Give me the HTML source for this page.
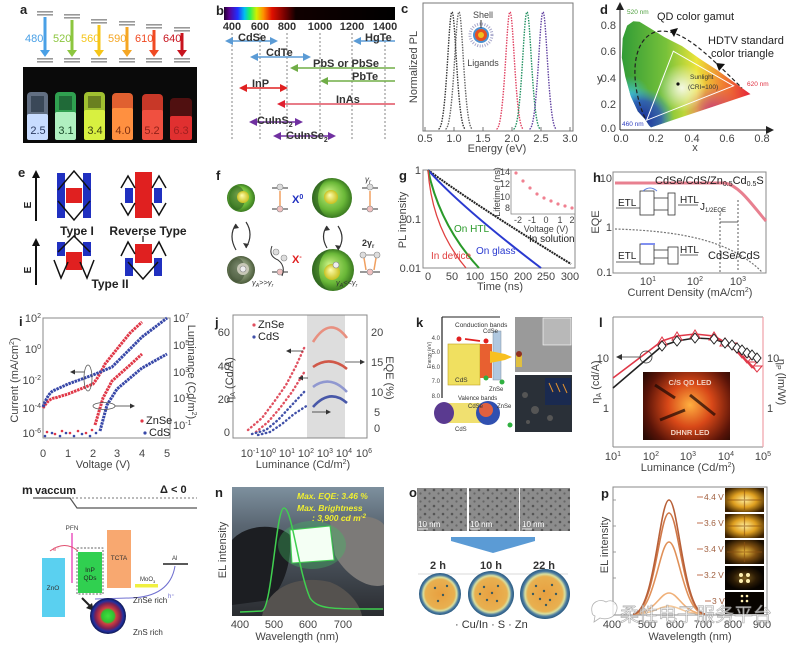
<!DOCTYPE html>
<html><head><meta charset="utf-8">
<style>
html,body{margin:0;padding:0;background:#fff;}
svg{display:block;font-family:"Liberation Sans",Arial,sans-serif;}
</style></head><body>
<svg width="800" height="650" viewBox="0 0 800 650" xmlns="http://www.w3.org/2000/svg">
<defs>
<linearGradient id="spec" x1="224" x2="395" y1="0" y2="0" gradientUnits="userSpaceOnUse">
<stop offset="0" stop-color="#200030"/><stop offset="0.03" stop-color="#5a0090"/><stop offset="0.08" stop-color="#2030ff"/><stop offset="0.12" stop-color="#00c0f0"/><stop offset="0.15" stop-color="#20f060"/><stop offset="0.19" stop-color="#d0f000"/><stop offset="0.23" stop-color="#ff9000"/><stop offset="0.28" stop-color="#e01000"/><stop offset="0.36" stop-color="#700000"/><stop offset="0.42" stop-color="#100000"/><stop offset="1" stop-color="#000"/>
</linearGradient>
<linearGradient id="cieH" x1="620" x2="752" y1="0" y2="0" gradientUnits="userSpaceOnUse">
<stop offset="0" stop-color="#2e9a36"/><stop offset="0.35" stop-color="#78c23a"/><stop offset="0.58" stop-color="#ece43a"/><stop offset="0.78" stop-color="#f08030"/><stop offset="1" stop-color="#e41e3c"/>
</linearGradient>
<radialGradient id="cieB" cx="642" cy="120" r="32" gradientUnits="userSpaceOnUse"><stop offset="0" stop-color="#1a2a9a"/><stop offset="0.6" stop-color="#2a50c0" stop-opacity="0.8"/><stop offset="1" stop-color="#30a0e0" stop-opacity="0"/></radialGradient>
<radialGradient id="cieC" cx="630" cy="96" r="20" gradientUnits="userSpaceOnUse"><stop offset="0" stop-color="#40c8e8" stop-opacity="0.9"/><stop offset="1" stop-color="#40c8e8" stop-opacity="0"/></radialGradient>
<radialGradient id="cieW" cx="682" cy="88" r="24" gradientUnits="userSpaceOnUse"><stop offset="0" stop-color="#ffffff" stop-opacity="0.85"/><stop offset="1" stop-color="#ffffff" stop-opacity="0"/></radialGradient>
<radialGradient id="cieM" cx="712" cy="112" r="28" gradientUnits="userSpaceOnUse"><stop offset="0" stop-color="#c42a80" stop-opacity="0.9"/><stop offset="1" stop-color="#c42a80" stop-opacity="0"/></radialGradient>
<clipPath id="cieClip"><path d="M651,127.4 L649,125.4 L644.9,119 L637.8,111.4 L630.7,96 L625.3,76.8 L621.8,57.6 L622.7,38.4 L627.1,25.6 L633.3,21.2 L639.5,21.8 L650.2,28.2 L664.4,37.1 L682.1,46.1 L699.9,58.9 L717.6,70.4 L735.4,83.2 L750.5,94.1 Z"/></clipPath>
<radialGradient id="sphG" cx="0.5" cy="0.5" r="0.5" fx="0.4" fy="0.35"><stop offset="0" stop-color="#c8f080"/><stop offset="0.7" stop-color="#6ab838"/><stop offset="1" stop-color="#3a7a20"/></radialGradient>
<radialGradient id="sphGray" cx="0.5" cy="0.5" r="0.5" fx="0.4" fy="0.35"><stop offset="0" stop-color="#b8c4a8"/><stop offset="0.7" stop-color="#7a8a68"/><stop offset="1" stop-color="#4a5a3a"/></radialGradient>
<radialGradient id="coreY" cx="0.5" cy="0.5" r="0.5" fx="0.4" fy="0.35"><stop offset="0" stop-color="#ffffb0"/><stop offset="1" stop-color="#c8c020"/></radialGradient>
<radialGradient id="lglow" cx="690" cy="405" r="55" gradientUnits="userSpaceOnUse"><stop offset="0" stop-color="#ffb040"/><stop offset="0.4" stop-color="#d84818"/><stop offset="0.8" stop-color="#5a1408"/><stop offset="1" stop-color="#2a0a04"/></radialGradient>
<radialGradient id="pglow" cx="0.5" cy="0.5" r="0.6"><stop offset="0" stop-color="#fff0a0"/><stop offset="0.5" stop-color="#e0a020"/><stop offset="1" stop-color="#3a2000"/></radialGradient>
<radialGradient id="pglow2" cx="0.5" cy="0.5" r="0.6"><stop offset="0" stop-color="#f0c040"/><stop offset="0.5" stop-color="#805010"/><stop offset="1" stop-color="#1a0e00"/></radialGradient>
<radialGradient id="pglow3" cx="0.5" cy="0.5" r="0.5"><stop offset="0" stop-color="#806020"/><stop offset="0.6" stop-color="#2a1a04"/><stop offset="1" stop-color="#080400"/></radialGradient>
<linearGradient id="nbg" x1="0" y1="0" x2="0" y2="1"><stop offset="0" stop-color="#7d909e"/><stop offset="0.3" stop-color="#5a6672"/><stop offset="1" stop-color="#2a2c30"/></linearGradient>
<pattern id="tem" width="9" height="8" patternUnits="userSpaceOnUse"><rect width="9" height="8" fill="#8c8c8c"/><circle cx="2" cy="2" r="1.3" fill="#555"/><circle cx="6.5" cy="5.5" r="1.1" fill="#666"/></pattern>
<radialGradient id="oring" cx="0.5" cy="0.5" r="0.5"><stop offset="0" stop-color="#e8a040"/><stop offset="0.7" stop-color="#e8b050"/><stop offset="0.8" stop-color="#d8e0a0"/><stop offset="0.9" stop-color="#4a7aa0"/><stop offset="1" stop-color="#2a5a80"/></radialGradient>
<radialGradient id="msph" cx="0.5" cy="0.5" r="0.5"><stop offset="0" stop-color="#40e040"/><stop offset="0.35" stop-color="#30c030"/><stop offset="0.45" stop-color="#d04040"/><stop offset="0.7" stop-color="#802050"/><stop offset="0.85" stop-color="#2030a0"/><stop offset="1" stop-color="#101850"/></radialGradient>
</defs>
<rect width="800" height="650" fill="#fff"/>

<!-- ================= Panel a ================= -->
<text x="20" y="14" font-size="13" font-weight="bold" fill="#222">a</text>
<g>
<rect x="37" y="11" width="16" height="1.6" fill="#999"/><rect x="37" y="14" width="16" height="1.6" fill="#999"/>
<line x1="45" y1="17" x2="45" y2="52" stroke="#4aa0e6" stroke-width="3"/><polygon points="40,50 50,50 45,57" fill="#4aa0e6"/>
<rect x="37" y="58" width="16" height="1.6" fill="#999"/><rect x="37" y="61" width="16" height="1.6" fill="#999"/>
<text x="25" y="42" font-size="11" fill="#4aa0e6">480</text>

<rect x="64" y="14" width="16" height="1.6" fill="#999"/><rect x="64" y="17" width="16" height="1.6" fill="#999"/>
<line x1="72" y1="20" x2="72" y2="52" stroke="#8cc63f" stroke-width="3"/><polygon points="67,50 77,50 72,57" fill="#8cc63f"/>
<rect x="64" y="58" width="16" height="1.6" fill="#999"/><rect x="64" y="61" width="16" height="1.6" fill="#999"/>
<text x="53" y="42" font-size="11" fill="#8cc63f">520</text>

<rect x="91" y="19" width="16" height="1.6" fill="#999"/><rect x="91" y="22" width="16" height="1.6" fill="#999"/>
<line x1="99" y1="25" x2="99" y2="52" stroke="#f5c518" stroke-width="3"/><polygon points="94,50 104,50 99,57" fill="#f5c518"/>
<rect x="91" y="58" width="16" height="1.6" fill="#999"/><rect x="91" y="61" width="16" height="1.6" fill="#999"/>
<text x="81" y="42" font-size="11" fill="#f5c518">560</text>

<rect x="119" y="21" width="16" height="1.6" fill="#999"/><rect x="119" y="24" width="16" height="1.6" fill="#999"/>
<line x1="127" y1="27" x2="127" y2="52" stroke="#f5a623" stroke-width="3"/><polygon points="122,50 132,50 127,57" fill="#f5a623"/>
<rect x="119" y="58" width="16" height="1.6" fill="#999"/><rect x="119" y="61" width="16" height="1.6" fill="#999"/>
<text x="108" y="42" font-size="11" fill="#f5a623">590</text>

<rect x="146" y="24" width="16" height="1.6" fill="#999"/><rect x="146" y="27" width="16" height="1.6" fill="#999"/>
<line x1="154" y1="30" x2="154" y2="52" stroke="#f04a23" stroke-width="3"/><polygon points="149,50 159,50 154,57" fill="#f04a23"/>
<rect x="146" y="58" width="16" height="1.6" fill="#999"/><rect x="146" y="61" width="16" height="1.6" fill="#999"/>
<text x="135" y="42" font-size="11" fill="#f04a23">610</text>

<rect x="174" y="27" width="16" height="1.6" fill="#999"/><rect x="174" y="30" width="16" height="1.6" fill="#999"/>
<line x1="182" y1="33" x2="182" y2="52" stroke="#c8141e" stroke-width="3"/><polygon points="177,50 187,50 182,57" fill="#c8141e"/>
<rect x="174" y="58" width="16" height="1.6" fill="#999"/><rect x="174" y="61" width="16" height="1.6" fill="#999"/>
<text x="163" y="42" font-size="11" fill="#c8141e">640</text>
</g>
<rect x="23" y="67" width="174" height="76" fill="#0a0a0a"/>
<g>
<rect x="27" y="92" width="21" height="48" rx="4" fill="#7888a0" opacity="0.8"/><rect x="31" y="96" width="13" height="16" fill="#3a4858"/><rect x="27" y="114" width="21" height="26" rx="2" fill="#c8dcff"/>
<rect x="55" y="92" width="21" height="48" rx="4" fill="#30a050"/><rect x="59" y="96" width="13" height="14" fill="#206a38"/><rect x="55" y="112" width="21" height="28" rx="2" fill="#b0f0c0"/>
<rect x="84" y="92" width="21" height="48" rx="4" fill="#a0c030"/><rect x="88" y="96" width="13" height="12" fill="#6a8020"/><rect x="84" y="110" width="21" height="30" rx="2" fill="#d8f040"/>
<rect x="112" y="93" width="21" height="47" rx="4" fill="#e06030"/><rect x="112" y="108" width="21" height="32" rx="2" fill="#ff9040"/>
<rect x="142" y="94" width="21" height="46" rx="4" fill="#c83828"/><rect x="142" y="110" width="21" height="30" rx="2" fill="#f05040"/>
<rect x="170" y="98" width="22" height="42" rx="4" fill="#501010"/><rect x="170" y="116" width="22" height="24" rx="2" fill="#e03030"/>
<text font-size="11" text-anchor="middle" y="134"><tspan x="38" fill="#2a3a60">2.5</tspan><tspan x="66" fill="#1a4a2a">3.1</tspan><tspan x="95" fill="#3a4010">3.4</tspan><tspan x="123" fill="#803010">4.0</tspan><tspan x="152" fill="#902018">5.2</tspan><tspan x="181" fill="#a02020">6.3</tspan></text>
</g>

<!-- ================= Panel b ================= -->
<text x="216" y="15" font-size="13" font-weight="bold" fill="#222">b</text>
<rect x="224" y="7" width="171" height="13" fill="url(#spec)"/>
<g font-size="11" font-weight="bold" fill="#333" text-anchor="middle">
<text x="232" y="30">400</text><text x="260" y="30">600</text><text x="287" y="30">800</text><text x="320" y="30">1000</text><text x="352" y="30">1200</text><text x="385" y="30">1400</text>
</g>
<g stroke="#666" stroke-width="0.8" stroke-dasharray="2 2">
<line x1="232" y1="33" x2="232" y2="140"/><line x1="260" y1="33" x2="260" y2="140"/><line x1="287" y1="33" x2="287" y2="140"/><line x1="320" y1="33" x2="320" y2="140"/><line x1="352" y1="33" x2="352" y2="140"/><line x1="385" y1="33" x2="385" y2="140"/>
</g>
<g stroke-width="1.5">
<line x1="230" y1="41" x2="273" y2="41" stroke="#5b9bd5"/><polygon points="225,41 233,37 233,45" fill="#5b9bd5"/><polygon points="278,41 270,37 270,45" fill="#5b9bd5"/>
<line x1="357" y1="41" x2="395" y2="41" stroke="#5b9bd5"/><polygon points="353,41 361,37 361,45" fill="#5b9bd5"/>
<line x1="254" y1="57" x2="306" y2="57" stroke="#5b9bd5"/><polygon points="250,57 258,53 258,61" fill="#5b9bd5"/><polygon points="311,57 303,53 303,61" fill="#5b9bd5"/>
<line x1="294" y1="68" x2="395" y2="68" stroke="#70ad47"/><polygon points="290,68 298,64 298,72" fill="#70ad47"/>
<line x1="324" y1="81" x2="395" y2="81" stroke="#70ad47"/><polygon points="320,81 328,77 328,85" fill="#70ad47"/>
<line x1="243" y1="88" x2="283" y2="88" stroke="#e02020"/><polygon points="239,88 247,84 247,92" fill="#e02020"/><polygon points="288,88 280,84 280,92" fill="#e02020"/>
<line x1="281" y1="104" x2="395" y2="104" stroke="#e05060"/><polygon points="277,104 285,100 285,108" fill="#e02030"/>
<line x1="253" y1="122" x2="299" y2="122" stroke="#7030a0"/><polygon points="249,122 257,118 257,126" fill="#7030a0"/><polygon points="303,122 295,118 295,126" fill="#7030a0"/>
<line x1="277" y1="136" x2="331" y2="136" stroke="#7030a0"/><polygon points="273,136 281,132 281,140" fill="#7030a0"/><polygon points="336,136 328,132 328,140" fill="#7030a0"/>
</g>
<g font-size="11" font-weight="bold" fill="#333">
<text x="238" y="41">CdSe</text><text x="365" y="41">HgTe</text><text x="266" y="56">CdTe</text><text x="313" y="67">PbS or PbSe</text><text x="352" y="80">PbTe</text><text x="252" y="87">InP</text><text x="336" y="103">InAs</text>
<text x="257" y="124">CuInS<tspan font-size="7" dy="3">2</tspan></text>
<text x="286" y="139">CuInSe<tspan font-size="7" dy="3">2</tspan></text>
</g>

<!-- ================= Panel c ================= -->
<text x="401" y="13" font-size="13" font-weight="bold" fill="#222">c</text>
<rect x="423" y="3" width="150" height="128" fill="none" stroke="#777" stroke-width="1"/>
<g stroke="#777" stroke-width="1"><line x1="425" y1="131" x2="425" y2="127"/><line x1="454" y1="131" x2="454" y2="127"/><line x1="483" y1="131" x2="483" y2="127"/><line x1="512" y1="131" x2="512" y2="127"/><line x1="541" y1="131" x2="541" y2="127"/><line x1="570" y1="131" x2="570" y2="127"/></g>
<g font-size="11" fill="#444" text-anchor="middle"><text x="425" y="142">0.5</text><text x="454" y="142">1.0</text><text x="483" y="142">1.5</text><text x="512" y="142">2.0</text><text x="541" y="142">2.5</text><text x="570" y="142">3.0</text></g>
<text x="497" y="152" font-size="11" fill="#444" text-anchor="middle">Energy (eV)</text>
<text transform="translate(417,67) rotate(-90)" font-size="11" fill="#444" text-anchor="middle">Normalized PL</text>
<g fill="none" stroke-width="1.4" stroke-dasharray="1.5 1.2">
<path d="M438.5,129 C446.6,129 448.4,12 452,12 C455.6,12 457.4,129 465.5,129" stroke="#333"/>
<path d="M445.5,129 C453.6,129 455.4,12 459,12 C462.6,12 464.4,129 472.5,129" stroke="#666"/>
<path d="M496.5,129 C504.6,129 506.4,12 510,12 C513.6,12 515.4,129 523.5,129" stroke="#e04060"/>
<path d="M513.5,129 C521.6,129 523.4,12 527,12 C530.6,12 532.4,129 540.5,129" stroke="#209060"/>
<path d="M529.5,129 C537.6,129 539.4,12 543,12 C546.6,12 548.4,129 556.5,129" stroke="#6040a0"/>
</g>
<circle cx="481" cy="35" r="11" fill="none" stroke="#aac" stroke-width="3" stroke-dasharray="1 1.5"/>
<circle cx="481" cy="35" r="8" fill="#4a90d0"/><circle cx="481" cy="35" r="6" fill="#e85020"/><circle cx="481" cy="35" r="3" fill="#f0c020"/>
<text x="483" y="18" font-size="9" fill="#444" text-anchor="middle">Shell</text>
<line x1="481" y1="20" x2="481" y2="28" stroke="#333"/>
<text x="483" y="66" font-size="9" fill="#444" text-anchor="middle">Ligands</text>

<!-- ================= Panel d ================= -->
<text x="600" y="14" font-size="13" font-weight="bold" fill="#222">d</text>
<g clip-path="url(#cieClip)">
<rect x="615" y="15" width="140" height="120" fill="url(#cieH)"/>
<rect x="615" y="15" width="140" height="120" fill="url(#cieC)"/>
<rect x="615" y="15" width="140" height="120" fill="url(#cieB)"/>
<rect x="615" y="15" width="140" height="120" fill="url(#cieM)"/>
<rect x="615" y="15" width="140" height="120" fill="url(#cieW)"/>
</g>
<path d="M645,118 C632,90 628,42 655,32 C680,26 705,52 742,88" fill="none" stroke="#222" stroke-width="1.2" stroke-dasharray="4 2.5"/>
<polygon points="733.6,85.8 673.3,51.2 646.6,120.3" fill="none" stroke="#fff" stroke-width="1"/>
<circle cx="678" cy="84" r="1.6" fill="#111"/>
<line x1="620" y1="130" x2="620" y2="8" stroke="#222" stroke-width="1"/><polygon points="616,10 624,10 620,2" fill="#222"/>
<line x1="620" y1="130" x2="768" y2="130" stroke="#222" stroke-width="1"/><polygon points="766,126 766,134 774,130" fill="#222"/>
<g font-size="11" fill="#444"><text x="616" y="132" text-anchor="end">0.0</text><text x="616" y="108" text-anchor="end">0.2</text><text x="616" y="82" text-anchor="end">0.4</text><text x="616" y="55" text-anchor="end">0.6</text><text x="616" y="29" text-anchor="end">0.8</text></g>
<g font-size="11" fill="#444" text-anchor="middle"><text x="621" y="142">0.0</text><text x="656" y="142">0.2</text><text x="692" y="142">0.4</text><text x="727" y="142">0.6</text><text x="762" y="142">0.8</text></g>
<text x="695" y="151" font-size="11" fill="#444" text-anchor="middle">x</text>
<text x="597" y="82" font-size="11" fill="#444">y</text>
<text x="657" y="20" font-size="11" fill="#222">QD color gamut</text>
<polygon points="670,30 678,28 674,37" fill="#111"/>
<text x="708" y="44" font-size="11" fill="#222">HDTV standard</text>
<text x="711" y="57" font-size="11" fill="#222">color triangle</text>
<polygon points="716,63 725,64 719,71" fill="#111"/>
<text x="690" y="79" font-size="6.5" fill="#333">Sunlight</text>
<text x="688" y="89" font-size="6.5" fill="#333">(CRI=100)</text>
<text x="747" y="86" font-size="6.5" fill="#e03040">620 nm</text>
<text x="622" y="126" font-size="6.5" fill="#3040c0">460 nm</text>
<text x="627" y="14" font-size="6.5" fill="#50a040">520 nm</text>

<!-- ================= Panel e ================= -->
<text x="18" y="177" font-size="13" font-weight="bold" fill="#222">e</text>
<line x1="36" y1="221" x2="36" y2="176" stroke="#111" stroke-width="2"/><polygon points="32,178 40,178 36,170" fill="#111"/>
<text transform="translate(31,205) rotate(-90)" font-size="10" font-weight="bold" text-anchor="middle" fill="#222">E</text>
<line x1="36" y1="285" x2="36" y2="244" stroke="#111" stroke-width="2"/><polygon points="32,246 40,246 36,238" fill="#111"/>
<text transform="translate(31,270) rotate(-90)" font-size="10" font-weight="bold" text-anchor="middle" fill="#222">E</text>
<rect x="57" y="173" width="8" height="45" fill="#2030c0"/><rect x="83" y="173" width="8" height="45" fill="#2030c0"/>
<rect x="66" y="188" width="16" height="15" fill="#e02020"/>
<polyline points="58,190 74,171 90,190" fill="none" stroke="#111" stroke-width="1.5"/>
<polyline points="58,201 74,220 90,201" fill="none" stroke="#111" stroke-width="1.5"/>
<text x="77" y="235" font-size="12" font-weight="bold" text-anchor="middle" fill="#222">Type I</text>
<rect x="135" y="172" width="17" height="46" fill="#e02020"/>
<rect x="125" y="188" width="8" height="15" fill="#2030c0"/><rect x="154" y="188" width="8" height="15" fill="#2030c0"/>
<polyline points="121,188 128,176 135,188" fill="none" stroke="#111" stroke-width="1.5"/>
<polyline points="152,188 159,176 166,188" fill="none" stroke="#111" stroke-width="1.5"/>
<polyline points="121,203 128,215 135,203" fill="none" stroke="#111" stroke-width="1.5"/>
<polyline points="152,203 159,215 166,203" fill="none" stroke="#111" stroke-width="1.5"/>
<text x="148" y="235" font-size="12" font-weight="bold" text-anchor="middle" fill="#222">Reverse Type</text>
<rect x="57" y="242" width="8" height="14" fill="#2030c0"/><rect x="83" y="242" width="8" height="14" fill="#2030c0"/>
<rect x="66" y="252" width="16" height="18" fill="#e02020"/>
<polyline points="58,252 74,236 90,252" fill="none" stroke="#111" stroke-width="1.5"/>
<polyline points="54,260 61,278 68,262" fill="none" stroke="#111" stroke-width="1.5"/>
<polyline points="80,262 87,278 94,260" fill="none" stroke="#111" stroke-width="1.5"/>
<rect x="125" y="258" width="8" height="18" fill="#2030c0"/><rect x="154" y="258" width="8" height="18" fill="#2030c0"/>
<rect x="135" y="244" width="17" height="19" fill="#e02020"/>
<polyline points="121,256 128,242 135,254" fill="none" stroke="#111" stroke-width="1.5"/>
<polyline points="152,254 159,242 166,256" fill="none" stroke="#111" stroke-width="1.5"/>
<polyline points="128,262 143,279 158,262" fill="none" stroke="#111" stroke-width="1.5"/>
<line x1="143" y1="236" x2="143" y2="242" stroke="#111" stroke-width="1.2"/>
<text x="110" y="288" font-size="12" font-weight="bold" text-anchor="middle" fill="#222">Type II</text>

<!-- ================= Panel f ================= -->
<text x="216" y="180" font-size="13" font-weight="bold" fill="#222">f</text>
<circle cx="241" cy="198" r="14" fill="url(#sphG)"/>
<ellipse cx="237" cy="198" rx="8" ry="12" fill="#2a5a20" opacity="0.55"/>
<circle cx="243" cy="197" r="6" fill="url(#coreY)"/>
<circle cx="241" cy="270" r="14" fill="url(#sphGray)"/>
<ellipse cx="237" cy="270" rx="8" ry="12" fill="#3a4a30" opacity="0.5"/>
<circle cx="243" cy="269" r="6" fill="#c8c8b8"/><circle cx="243" cy="269" r="3" fill="#eee" stroke="#888" stroke-width="0.6"/>
<circle cx="332" cy="198" r="20" fill="url(#sphG)"/>
<path d="M332,178 A20,20 0 0,0 332,218 A14,20 0 0,1 332,178 Z" fill="#2a5a20" opacity="0.6"/>
<circle cx="331" cy="197" r="7" fill="url(#coreY)"/>
<circle cx="333" cy="270" r="21" fill="url(#sphG)"/>
<path d="M333,249 A21,21 0 0,0 333,291 A14,21 0 0,1 333,249 Z" fill="#2a5a20" opacity="0.6"/>
<circle cx="332" cy="272" r="8" fill="url(#coreY)"/><circle cx="336" cy="265" r="3" fill="#eee" stroke="#888" stroke-width="0.6"/>
<g fill="none" stroke="#333" stroke-width="1.2">
<path d="M236,224 Q228,236 236,250"/><path d="M246,222 Q254,234 246,248"/>
<path d="M327,226 Q320,236 327,248"/><path d="M338,226 Q346,238 338,250"/>
</g>
<g fill="#333"><polygon points="236,224 233,229 239,228"/><polygon points="246,248 243,243 249,244"/><polygon points="327,226 324,231 330,230"/><polygon points="338,250 335,245 341,246"/></g>
<g stroke="#333" stroke-width="1">
<line x1="272" y1="188" x2="288" y2="188"/><line x1="272" y1="209" x2="288" y2="209"/>
<line x1="272" y1="272" x2="288" y2="272"/>
<line x1="362" y1="188" x2="378" y2="188"/><line x1="362" y1="209" x2="378" y2="209"/>
<line x1="360" y1="272" x2="380" y2="272"/>
</g>
<g stroke="#f0a060" stroke-width="1.5"><line x1="280" y1="191" x2="280" y2="206"/><line x1="370" y1="191" x2="370" y2="206"/><line x1="364" y1="258" x2="366" y2="270"/><line x1="376" y1="258" x2="374" y2="270"/></g>
<g stroke="#888" stroke-width="0.6"><circle cx="280" cy="187" r="3" fill="#ddd"/><circle cx="280" cy="209" r="3" fill="#f0c0c0"/><circle cx="370" cy="187" r="3" fill="#ddd"/><circle cx="370" cy="209" r="3" fill="#f0c0c0"/>
<circle cx="276" cy="252" r="3" fill="#ddd"/><circle cx="284" cy="258" r="3" fill="#ddd"/><circle cx="280" cy="272" r="3" fill="#f0c0c0"/>
<circle cx="363" cy="255" r="3" fill="#ddd"/><circle cx="377" cy="255" r="3" fill="#ddd"/><circle cx="370" cy="272" r="3" fill="#f0c0c0"/></g>
<path d="M272,246 Q268,256 278,260 Q286,266 282,276" fill="none" stroke="#333" stroke-width="1"/>
<line x1="366" y1="255" x2="374" y2="255" stroke="#888"/>
<text x="292" y="203" font-size="11" font-weight="bold" fill="#2030c0">X<tspan font-size="7" dy="-4">0</tspan></text>
<text x="292" y="263" font-size="11" font-weight="bold" fill="#e02020">X<tspan font-size="7" dy="-4">-</tspan></text>
<text x="365" y="182" font-size="8" font-style="italic" fill="#333">γ<tspan font-size="6" dy="2">r</tspan></text>
<text x="362" y="246" font-size="9" font-weight="bold" fill="#333">2γ<tspan font-size="6" dy="2">r</tspan></text>
<text x="252" y="285" font-size="7.5" font-style="italic" fill="#333">γ<tspan font-size="5" dy="2">A</tspan><tspan dy="-2">&gt;&gt;γ</tspan><tspan font-size="5" dy="2">r</tspan></text>
<text x="336" y="285" font-size="7.5" font-style="italic" fill="#333">γ<tspan font-size="5" dy="2">A</tspan><tspan dy="-2">&lt;&lt;γ</tspan><tspan font-size="5" dy="2">r</tspan></text>

<!-- ================= Panel g ================= -->
<text x="399" y="180" font-size="13" font-weight="bold" fill="#222">g</text>
<rect x="423" y="170" width="152" height="98" fill="none" stroke="#888" stroke-width="1"/>
<text transform="translate(406,220) rotate(-90)" font-size="11" fill="#444" text-anchor="middle">PL intensity</text>
<g font-size="11" fill="#444" text-anchor="end"><text x="421" y="174">1</text><text x="421" y="223">0.1</text><text x="421" y="272">0.01</text></g>
<g font-size="11" fill="#444" text-anchor="middle"><text x="428" y="280">0</text><text x="452" y="280">50</text><text x="475" y="280">100</text><text x="499" y="280">150</text><text x="523" y="280">200</text><text x="546" y="280">250</text><text x="570" y="280">300</text></g>
<text x="500" y="290" font-size="11" fill="#444" text-anchor="middle">Time (ns)</text>
<g fill="none" stroke-width="2">
<path d="M428,170 Q472,203 571,264" stroke="#222" stroke-dasharray="2 0.8"/>
<path d="M428,170 Q462,208 541,268" stroke="#2a3ad0"/>
<path d="M428,170 Q440,226 479,268" stroke="#2a9a2a"/>
<path d="M428,170 Q432,228 466,268" stroke="#e04040" stroke-width="1.3"/>
</g>
<text x="431" y="259" font-size="10" fill="#e04040">In device</text>
<text x="454" y="232" font-size="10" fill="#2a9a2a">On HTL</text>
<text x="476" y="254" font-size="10" fill="#2a3ad0">On glass</text>
<text x="529" y="242" font-size="10" fill="#222">In solution</text>
<rect x="511" y="170" width="64" height="44" fill="#fff" stroke="#888" stroke-width="0.8"/>
<text transform="translate(500,192) rotate(-90)" font-size="9" fill="#444" text-anchor="middle">Lifetime (ns)</text>
<g font-size="9" fill="#444" text-anchor="end"><text x="510" y="175">14</text><text x="510" y="187">12</text><text x="510" y="200">10</text><text x="510" y="211">8</text></g>
<g font-size="9" fill="#444" text-anchor="middle"><text x="518" y="223">-2</text><text x="532" y="223">-1</text><text x="546" y="223">0</text><text x="560" y="223">1</text><text x="572" y="223">2</text></g>
<text x="546" y="232" font-size="9" fill="#444" text-anchor="middle">Voltage (V)</text>
<g fill="#f08090"><circle cx="516" cy="173" r="1.6"/><circle cx="523" cy="181" r="1.6"/><circle cx="530" cy="188" r="1.6"/><circle cx="537" cy="194" r="1.6"/><circle cx="544" cy="198" r="1.6"/><circle cx="551" cy="201" r="1.6"/><circle cx="558" cy="204" r="1.6"/><circle cx="565" cy="206" r="1.6"/><circle cx="572" cy="208" r="1.6"/></g>

<!-- ================= Panel h ================= -->
<text x="593" y="182" font-size="13" font-weight="bold" fill="#222">h</text>
<rect x="613" y="172" width="153" height="101" fill="none" stroke="#888" stroke-width="1"/>
<text transform="translate(599,222) rotate(-90)" font-size="11" fill="#444" text-anchor="middle">EQE</text>
<g font-size="11" fill="#444" text-anchor="end"><text x="612" y="182">10</text><text x="612" y="231">1</text><text x="612" y="276">0.1</text></g>
<g font-size="11" fill="#444" text-anchor="middle"><text x="648" y="285">10<tspan font-size="7" dy="-4">1</tspan></text><text x="695" y="285">10<tspan font-size="7" dy="-4">2</tspan></text><text x="738" y="285">10<tspan font-size="7" dy="-4">3</tspan></text></g>
<text x="690" y="296" font-size="11" fill="#444" text-anchor="middle">Current Density (mA/cm<tspan font-size="7" dy="-4">2</tspan><tspan dy="4">)</tspan></text>
<path d="M615,183 L725,183 C740,186 752,205 766,221" fill="none" stroke="#e88090" stroke-width="3"/>
<path d="M615,229 C680,231 730,240 762,272" fill="none" stroke="#777" stroke-width="1.2" stroke-dasharray="2 1.5"/>
<text x="655" y="184" font-size="11" fill="#222">CdSe/CdS/Zn<tspan font-size="7" dy="2">0.5</tspan><tspan dy="-2">Cd</tspan><tspan font-size="7" dy="2">0.5</tspan><tspan dy="-2">S</tspan></text>
<text x="708" y="259" font-size="11" fill="#222">CdSe/CdS</text>
<text x="700" y="210" font-size="10" fill="#222">J<tspan font-size="6" dy="2">1/2EQE</tspan></text>
<g stroke="#333" stroke-width="0.8" fill="none">
<line x1="720" y1="214" x2="720" y2="272" stroke-dasharray="2 2"/><line x1="738" y1="200" x2="738" y2="272" stroke-dasharray="2 2"/>
<line x1="720" y1="222" x2="738" y2="222"/>
<line x1="616" y1="208" x2="640" y2="208"/><rect x="640" y="191" width="14" height="24"/><line x1="654" y1="198" x2="668" y2="198"/><line x1="654" y1="210" x2="668" y2="210"/><rect x="668" y="193" width="7" height="22"/><line x1="678" y1="205" x2="698" y2="205"/>
<line x1="616" y1="262" x2="640" y2="262"/><rect x="640" y="244" width="14" height="20"/><line x1="654" y1="250" x2="668" y2="250"/><line x1="654" y1="258" x2="668" y2="258"/><rect x="668" y="247" width="10" height="17"/><line x1="680" y1="255" x2="698" y2="255"/>
</g>
<path d="M643,191 Q650,185 657,191" fill="none" stroke="#6080e0" stroke-width="1"/>
<line x1="641" y1="244" x2="655" y2="244" stroke="#8090f0" stroke-width="2"/>
<text x="618" y="206" font-size="10" fill="#222">ETL</text><text x="680" y="203" font-size="10" fill="#222">HTL</text>
<text x="618" y="259" font-size="10" fill="#222">ETL</text><text x="680" y="253" font-size="10" fill="#222">HTL</text>

<!-- ================= Panel i ================= -->
<text x="19" y="326" font-size="13" font-weight="bold" fill="#222">i</text>
<rect x="43" y="318" width="127" height="120" fill="none" stroke="#888" stroke-width="1"/>
<g font-size="11" fill="#444" text-anchor="end">
<text x="41" y="322">10<tspan font-size="7" dy="-4">2</tspan></text>
<text x="41" y="353">10<tspan font-size="7" dy="-4">0</tspan></text>
<text x="41" y="384">10<tspan font-size="7" dy="-4">-2</tspan></text>
<text x="41" y="412">10<tspan font-size="7" dy="-4">-4</tspan></text>
<text x="41" y="437">10<tspan font-size="7" dy="-4">-6</tspan></text>
</g>
<g font-size="11" fill="#444">
<text x="173" y="322">10<tspan font-size="7" dy="-4">7</tspan></text>
<text x="173" y="349">10<tspan font-size="7" dy="-4">5</tspan></text>
<text x="173" y="376">10<tspan font-size="7" dy="-4">3</tspan></text>
<text x="173" y="402">10<tspan font-size="7" dy="-4">1</tspan></text>
<text x="173" y="429">10<tspan font-size="7" dy="-4">-1</tspan></text>
</g>
<g font-size="11" fill="#444" text-anchor="middle"><text x="43" y="457">0</text><text x="68" y="457">1</text><text x="93" y="457">2</text><text x="117" y="457">3</text><text x="142" y="457">4</text><text x="167" y="457">5</text></g>
<text x="103" y="468" font-size="11" fill="#444" text-anchor="middle">Voltage (V)</text>
<text transform="translate(18,380) rotate(-90)" font-size="11" fill="#444" text-anchor="middle">Current (mA/cm<tspan font-size="7" dy="-4">2</tspan><tspan dy="4">)</tspan></text>
<text transform="translate(188,372) rotate(90)" font-size="11" fill="#444" text-anchor="middle">Luminance (Cd/m<tspan font-size="7" dy="-4">2</tspan><tspan dy="4">)</tspan></text>
<g fill="none" stroke-width="3" stroke-dasharray="2.5 0.8">
<path d="M43,408 C48,400 52,398 55,398 L68,394 L93,384 C98,378 102,370 105,364 L117,349 L130,333 L142,322" stroke="#e03848"/>
<path d="M43,407 C47,396 51,391 55,390 L68,384 L93,375 L112,367 L125,354 L142,337 L167,318" stroke="#3848a8"/>
<path d="M95,425 L103,398 L112,381 L130,365 L142,354" stroke="#e03848"/>
<path d="M100,431 L107,405 L117,389 L142,368 L167,354" stroke="#3848a8"/>
</g>
<g fill="#e03848"><circle cx="47" cy="432" r="1.3"/><circle cx="55" cy="434" r="1.3"/><circle cx="62" cy="431" r="1.3"/><circle cx="70" cy="433" r="1.3"/><circle cx="78" cy="431" r="1.3"/><circle cx="86" cy="433" r="1.3"/><circle cx="92" cy="430" r="1.3"/></g>
<g fill="#3848a8"><circle cx="45" cy="436" r="1.3"/><circle cx="52" cy="433" r="1.3"/><circle cx="60" cy="436" r="1.3"/><circle cx="66" cy="433" r="1.3"/><circle cx="74" cy="436" r="1.3"/><circle cx="82" cy="434" r="1.3"/><circle cx="90" cy="436" r="1.3"/><circle cx="96" cy="433" r="1.3"/></g>
<ellipse cx="88" cy="378" rx="4" ry="13" fill="none" stroke="#555" stroke-width="0.8"/>
<line x1="84" y1="372" x2="72" y2="372" stroke="#333" stroke-width="0.8"/><polygon points="70,372 75,369.5 75,374.5" fill="#333"/>
<ellipse cx="104" cy="406" rx="11" ry="3.5" fill="none" stroke="#555" stroke-width="0.8"/>
<line x1="115" y1="406" x2="132" y2="406" stroke="#333" stroke-width="0.8"/><polygon points="135,406 130,403.5 130,408.5" fill="#333"/>
<text x="146" y="424" font-size="11" fill="#222">ZnSe</text><circle cx="142" cy="421" r="1.6" fill="#e03848"/>
<text x="149" y="436" font-size="11" fill="#222">CdS</text><circle cx="145" cy="433" r="1.6" fill="#3848a8"/>

<!-- ================= Panel j ================= -->
<text x="215" y="327" font-size="13" font-weight="bold" fill="#222">j</text>
<rect x="307" y="315" width="38" height="123" fill="#ddd"/>
<rect x="233" y="315" width="134" height="123" fill="none" stroke="#888" stroke-width="1"/>
<g font-size="11" fill="#444" text-anchor="end"><text x="230" y="336">60</text><text x="230" y="370">40</text><text x="230" y="403">20</text><text x="230" y="436">0</text></g>
<g font-size="11" fill="#444"><text x="371" y="336">20</text><text x="371" y="366">15</text><text x="371" y="396">10</text><text x="374" y="416">5</text><text x="374" y="432">0</text></g>
<g font-size="11" fill="#444" text-anchor="middle">
<text x="250" y="457">10<tspan font-size="7" dy="-4">-1</tspan></text><text x="268" y="457">10<tspan font-size="7" dy="-4">0</tspan></text><text x="287" y="457">10<tspan font-size="7" dy="-4">1</tspan></text><text x="306" y="457">10<tspan font-size="7" dy="-4">2</tspan></text><text x="325" y="457">10<tspan font-size="7" dy="-4">3</tspan></text><text x="344" y="457">10<tspan font-size="7" dy="-4">4</tspan></text><text x="364" y="457">10<tspan font-size="7" dy="-4">6</tspan></text>
</g>
<text x="303" y="468" font-size="11" fill="#444" text-anchor="middle">Luminance (Cd/m<tspan font-size="7" dy="-4">2</tspan><tspan dy="4">)</tspan></text>
<text transform="translate(233,380) rotate(-90)" font-size="11" fill="#444" text-anchor="middle">η<tspan font-size="7" dy="2">A</tspan><tspan dy="-2"> (Cd/A)</tspan></text>
<text transform="translate(386,378) rotate(90)" font-size="11" fill="#444" text-anchor="middle">EQE (%)</text>
<g fill="none" stroke-width="2.4" stroke-linecap="round" stroke-dasharray="0.5 3.5">
<path d="M248,430 L262,418 L274,402 L286,385 L296,366 L305,346" stroke="#e05060"/>
<path d="M256,432 L268,422 L280,408 L292,392 L305,371" stroke="#e05060"/>
<path d="M252,434 L266,430 L278,420 L290,407 L305,391" stroke="#4050a8"/>
<path d="M258,435 L270,432 L282,424 L294,414 L308,405" stroke="#4050a8"/>
</g>
<g fill="none" stroke-width="2.6">
<path d="M313,342 Q330,315 347,338" stroke="#e89080"/>
<path d="M313,367 Q330,355 347,369" stroke="#d05848"/>
<path d="M313,387 Q330,374 347,392" stroke="#9098d0"/>
<path d="M313,407 Q330,388 347,403" stroke="#4858a8"/>
</g>
<g stroke="#333" stroke-width="0.8"><line x1="288" y1="351" x2="303" y2="351"/><line x1="345" y1="362" x2="362" y2="362"/><line x1="300" y1="378" x2="308" y2="378"/><line x1="312" y1="412" x2="328" y2="412"/></g>
<g fill="#333"><polygon points="286,351 291,348.5 291,353.5"/><polygon points="365,362 360,359.5 360,364.5"/><polygon points="298,378 303,375.5 303,380.5"/><polygon points="331,412 326,409.5 326,414.5"/></g>
<text x="258" y="328" font-size="11" fill="#222">ZnSe</text><circle cx="254" cy="325" r="1.6" fill="#e05060"/>
<text x="258" y="340" font-size="11" fill="#222">CdS</text><circle cx="254" cy="337" r="1.6" fill="#4050a8"/>

<!-- ================= Panel k ================= -->
<text x="416" y="327" font-size="13" font-weight="bold" fill="#222">k</text>
<line x1="442" y1="317" x2="442" y2="398" stroke="#222" stroke-width="1.2"/>
<line x1="442" y1="317" x2="500" y2="317" stroke="#222" stroke-width="1"/>
<g font-size="6" fill="#444" text-anchor="end"><text x="440" y="340">4.0</text><text x="440" y="354">5.0</text><text x="440" y="369">6.0</text><text x="440" y="383">7.0</text><text x="440" y="398">8.0</text></g>
<text transform="translate(431,355) rotate(-90)" font-size="5" fill="#444" text-anchor="middle">Energy (eV)</text>
<text x="455" y="327" font-size="6.5" fill="#333">Conduction bands</text>
<rect x="493" y="331" width="8" height="49" fill="#b0c8e0" stroke="#8090a0" stroke-width="0.5"/>
<rect x="448" y="344" width="32" height="41" fill="#f0e060"/>
<rect x="448" y="344" width="32" height="41" fill="none" stroke="#c0a020" stroke-width="0.6"/>
<rect x="480" y="344" width="12" height="34" fill="#e86030"/>
<polygon points="490,351 505,354 512,357 505,360 490,363" fill="#f8c020"/>
<circle cx="459" cy="339" r="2.5" fill="#e02020"/><circle cx="486" cy="341" r="2.5" fill="#e02020"/>
<line x1="465" y1="339" x2="480" y2="341" stroke="#e02020" stroke-width="1.8"/>
<circle cx="486" cy="378" r="2.5" fill="#30b040"/><circle cx="502" cy="382" r="2.5" fill="#30b040"/>
<text x="483" y="333" font-size="6" fill="#333">CdSe</text>
<text x="455" y="382" font-size="6.5" fill="#333">CdS</text>
<text x="489" y="391" font-size="6" fill="#333">ZnSe</text>
<text x="458" y="400" font-size="6" fill="#333">Valence bands</text>
<rect x="444" y="403" width="38" height="20" fill="#f0e070"/>
<ellipse cx="444" cy="413" rx="10" ry="11" fill="#5a3a90"/>
<circle cx="488" cy="413" r="12" fill="#3050b0"/><circle cx="486" cy="410" r="7" fill="#e06040"/>
<text x="468" y="408" font-size="6" fill="#333">CdSe</text>
<text x="455" y="431" font-size="6" fill="#333">CdS</text>
<text x="497" y="408" font-size="6" fill="#333">ZnSe</text>
<circle cx="510" cy="425" r="2.5" fill="#30b040"/>
<rect x="515" y="317" width="57" height="55" fill="#9a9a9a"/>
<rect x="543" y="318" width="28" height="27" fill="#b8b8b8" stroke="#fff" stroke-width="0.6"/>
<rect x="516" y="355" width="6" height="12" fill="#e0c040"/><circle cx="519" cy="354" r="3" fill="#903020"/>
<rect x="515" y="375" width="57" height="57" fill="#2a3038"/>
<rect x="545" y="378" width="26" height="27" fill="#1a2a50"/>
<g stroke="#e09030" stroke-width="1"><line x1="549" y1="383" x2="553" y2="392"/><line x1="556" y1="383" x2="560" y2="392"/><line x1="563" y1="384" x2="567" y2="393"/></g>
<g fill="#555"><circle cx="525" cy="395" r="3"/><circle cx="535" cy="410" r="4"/><circle cx="550" cy="418" r="3"/><circle cx="528" cy="422" r="2"/></g>

<!-- ================= Panel l ================= -->
<text x="599" y="327" font-size="13" font-weight="bold" fill="#222">l</text>
<line x1="613" y1="317" x2="613" y2="447" stroke="#888"/><line x1="613" y1="447" x2="763" y2="447" stroke="#888"/><line x1="613" y1="317" x2="763" y2="317" stroke="#888"/>
<line x1="763" y1="317" x2="763" y2="447" stroke="#f0a0a8" stroke-width="1.2"/>
<g font-size="11" fill="#444" text-anchor="end"><text x="609" y="362">10</text><text x="609" y="412">1</text></g>
<g font-size="11" fill="#444"><text x="767" y="362">10</text><text x="767" y="412">1</text></g>
<g font-size="11" fill="#444" text-anchor="middle">
<text x="613" y="460">10<tspan font-size="7" dy="-4">1</tspan></text><text x="651" y="460">10<tspan font-size="7" dy="-4">2</tspan></text><text x="688" y="460">10<tspan font-size="7" dy="-4">3</tspan></text><text x="726" y="460">10<tspan font-size="7" dy="-4">4</tspan></text><text x="763" y="460">10<tspan font-size="7" dy="-4">5</tspan></text>
</g>
<text x="688" y="471" font-size="11" fill="#444" text-anchor="middle">Luminance (Cd/m<tspan font-size="7" dy="-4">2</tspan><tspan dy="4">)</tspan></text>
<text transform="translate(599,382) rotate(-90)" font-size="11" fill="#444" text-anchor="middle">η<tspan font-size="7" dy="2">A</tspan><tspan dy="-2"> (cd/A)</tspan></text>
<text transform="translate(778,382) rotate(90)" font-size="11" fill="#444" text-anchor="middle">η<tspan font-size="7" dy="2">P</tspan><tspan dy="-2"> (lm/W)</tspan></text>
<polyline points="613,378 662,341 677,336 695,334 714,336 725,342 740,354 755,369" fill="none" stroke="#e03848" stroke-width="1.6"/>
<polyline points="613,388 662,346 677,341 695,338 714,339 725,343 737,348 755,356" fill="none" stroke="#222" stroke-width="1.6"/>
<g fill="none" stroke="#e03848" stroke-width="1">
<polygon points="662,337 657,345 667,345"/><polygon points="677,332 672,340 682,340"/><polygon points="695,330 690,338 700,338"/><polygon points="714,332 709,340 719,340"/><polygon points="725,338 720,346 730,346"/>
<polygon points="732,349 727,343 737,343"/><polygon points="737,353 732,347 742,347"/><polygon points="742,358 737,352 747,352"/><polygon points="747,363 742,357 752,357"/><polygon points="752,368 747,362 757,362"/><polygon points="757,372 752,366 762,366"/>
</g>
<g fill="#fff" stroke="#222" stroke-width="1">
<polygon points="662,341 666,346 662,351 658,346"/><polygon points="677,336 681,341 677,346 673,341"/><polygon points="695,333 699,338 695,343 691,338"/><polygon points="714,334 718,339 714,344 710,339"/><polygon points="725,338 729,343 725,348 721,343"/>
<polygon points="732,340 736,345 732,350 728,345"/><polygon points="737,343 741,348 737,353 733,348"/><polygon points="742,345 746,350 742,355 738,350"/><polygon points="747,348 751,353 747,358 743,353"/><polygon points="752,350 756,355 752,360 748,355"/><polygon points="757,353 761,358 757,363 753,358"/>
</g>
<circle cx="646" cy="357" r="6" fill="none" stroke="#333" stroke-width="0.8"/>
<line x1="640" y1="357" x2="620" y2="357" stroke="#333" stroke-width="0.8"/><polygon points="616,357 622,354 622,360" fill="#333"/>
<rect x="643" y="372" width="87" height="68" fill="url(#lglow)"/>
<g stroke="#1a0804" stroke-width="3" opacity="0.7"><line x1="655" y1="385" x2="675" y2="398"/><line x1="690" y1="395" x2="715" y2="415"/><line x1="660" y1="420" x2="685" y2="410"/></g>
<text x="690" y="385" font-size="7.5" font-weight="bold" fill="#f0d0c0" text-anchor="middle">C/S QD LED</text>
<text x="690" y="435" font-size="7.5" font-weight="bold" fill="#f0d0c0" text-anchor="middle">DHNR LED</text>

<!-- ================= Panel m ================= -->
<text x="22" y="494" font-size="12" font-weight="bold" fill="#222">m</text>
<text x="35" y="494" font-size="11" font-weight="bold" fill="#222">vaccum</text>
<text x="160" y="493" font-size="11" font-weight="bold" fill="#222">Δ &lt; 0</text>
<polyline points="33,498 70,498 77,508 197,508" fill="none" stroke="#555" stroke-width="1.2"/>
<line x1="72" y1="498" x2="197" y2="498" stroke="#777" stroke-width="1" stroke-dasharray="2 2"/>
<line x1="72" y1="533" x2="72" y2="583" stroke="#f080d0" stroke-width="2"/>
<text x="72" y="530" font-size="6.5" fill="#444" text-anchor="middle">PFN</text>
<rect x="42" y="558" width="23" height="59" fill="#5ad0f0"/>
<text x="53" y="590" font-size="6.5" fill="#333" text-anchor="middle">ZnO</text>
<rect x="77" y="548" width="26" height="46" fill="none" stroke="#333" stroke-width="0.7" stroke-dasharray="2 1.5"/>
<rect x="78" y="552" width="24" height="41" fill="#30d050"/>
<text x="90" y="572" font-size="6.5" fill="#222" text-anchor="middle">InP</text><text x="90" y="580" font-size="6.5" fill="#222" text-anchor="middle">QDs</text>
<rect x="107" y="530" width="24" height="58" fill="#f8a870"/>
<text x="119" y="560" font-size="6.5" fill="#333" text-anchor="middle">TCTA</text>
<rect x="135" y="584" width="23" height="3.5" fill="#f0f040"/>
<text x="140" y="581" font-size="6" fill="#333">MoO<tspan font-size="4" dy="2">3</tspan></text>
<line x1="163" y1="564" x2="188" y2="564" stroke="#222" stroke-width="1.5"/>
<text x="172" y="560" font-size="6" fill="#333">Al</text>
<path d="M50,551 Q65,540 78,551" fill="none" stroke="#e05070" stroke-width="1"/>
<path d="M175,566 Q170,597 130,598 L95,599" fill="none" stroke="#7070d0" stroke-width="1"/>
<text x="53" y="551" font-size="6" fill="#e05070">e⁻</text>
<text x="168" y="598" font-size="6" fill="#7070d0">h⁺</text>
<line x1="82" y1="598" x2="92" y2="608" stroke="#222" stroke-width="2"/><polygon points="94,611 86,608 92,603" fill="#222"/>
<circle cx="108" cy="616" r="18" fill="url(#msph)"/>
<text x="133" y="603" font-size="8" fill="#333">ZnSe rich</text>
<text x="133" y="635" font-size="8" fill="#333">ZnS rich</text>

<!-- ================= Panel n ================= -->
<text x="215" y="497" font-size="13" font-weight="bold" fill="#222">n</text>
<rect x="232" y="487" width="152" height="129" fill="url(#nbg)"/>
<path d="M232,540 C245,525 275,522 290,535 C292,560 285,585 270,600 L232,605 Z" fill="#1c1e22"/>
<path d="M262,616 C268,585 300,575 330,582 C350,590 360,605 362,616 Z" fill="#55524f"/>
<path d="M330,522 C350,512 378,515 384,525 L384,585 C368,590 345,575 335,555 Z" fill="#7c7a78"/>
<ellipse cx="312" cy="545" rx="34" ry="24" fill="#40c060" opacity="0.35"/>
<polygon points="290,530 330,526 334,560 292,563" fill="#f4fff4"/>
<polygon points="290,530 330,526 334,560 292,563" fill="none" stroke="#40d050" stroke-width="1"/>
<path d="M240,612 L262,611 C272,608 276,508 284,508 C292,508 298,570 310,598 C318,610 335,609 383,609" fill="none" stroke="#40d050" stroke-width="1.5"/>
<text x="297" y="499" font-size="8.5" font-style="italic" font-weight="bold" fill="#f0f030">Max. EQE: 3.46 %</text>
<text x="297" y="511" font-size="8.5" font-style="italic" font-weight="bold" fill="#f0f030">Max. Brightness</text>
<text x="312" y="521" font-size="8.5" font-style="italic" font-weight="bold" fill="#f0f030">: 3,900 cd m<tspan font-size="6" dy="-3">-2</tspan></text>
<g font-size="11" fill="#444" text-anchor="middle"><text x="240" y="628">400</text><text x="274" y="628">500</text><text x="308" y="628">600</text><text x="343" y="628">700</text></g>
<text x="297" y="640" font-size="11" fill="#444" text-anchor="middle">Wavelength (nm)</text>
<text transform="translate(226,550) rotate(-90)" font-size="11" fill="#444" text-anchor="middle">EL intensity</text>

<!-- ================= Panel o ================= -->
<text x="409" y="497" font-size="13" font-weight="bold" fill="#222">o</text>
<rect x="417" y="488" width="50" height="43" fill="url(#tem)"/>
<rect x="469" y="488" width="50" height="43" fill="url(#tem)"/>
<rect x="520" y="488" width="50" height="43" fill="url(#tem)"/>
<g font-size="8" fill="#fff"><text x="418" y="527">10 nm</text><text x="470" y="527">10 nm</text><text x="522" y="527">10 nm</text></g>
<g stroke="#fff" stroke-width="0.8"><line x1="418" y1="529" x2="428" y2="529"/><line x1="470" y1="529" x2="480" y2="529"/><line x1="522" y1="529" x2="532" y2="529"/></g>
<polygon points="451,537 535,537 535,541 493,553 451,541" fill="#5b9bd5"/>
<g font-size="11" font-weight="bold" fill="#333" text-anchor="middle"><text x="438" y="569">2 h</text><text x="491" y="569">10 h</text><text x="544" y="569">22 h</text></g>
<line x1="418" y1="574" x2="568" y2="574" stroke="#ccc" stroke-width="0.8"/>
<circle cx="440" cy="594" r="21" fill="url(#oring)"/>
<circle cx="491" cy="594" r="23" fill="url(#oring)"/>
<circle cx="545" cy="594" r="25" fill="url(#oring)"/>
<g fill="#3a5a60"><circle cx="435" cy="588" r="1.2"/><circle cx="443" cy="595" r="1.2"/><circle cx="438" cy="601" r="1.2"/><circle cx="447" cy="586" r="1.2"/>
<circle cx="484" cy="587" r="1.2"/><circle cx="492" cy="593" r="1.2"/><circle cx="498" cy="586" r="1.2"/><circle cx="487" cy="600" r="1.2"/><circle cx="497" cy="601" r="1.2"/><circle cx="480" cy="594" r="1.2"/>
<circle cx="536" cy="586" r="1.2"/><circle cx="544" cy="591" r="1.2"/><circle cx="552" cy="585" r="1.2"/><circle cx="540" cy="599" r="1.2"/><circle cx="550" cy="600" r="1.2"/><circle cx="556" cy="594" r="1.2"/><circle cx="533" cy="594" r="1.2"/><circle cx="546" cy="605" r="1.2"/></g>
<text x="455" y="628" font-size="11" fill="#333">· Cu/In   · S   · Zn</text>

<!-- ================= Panel p ================= -->
<text x="601" y="498" font-size="13" font-weight="bold" fill="#222">p</text>
<rect x="613" y="487" width="154" height="128" fill="none" stroke="#888" stroke-width="1"/>
<g stroke="#888" stroke-width="0.8"><line x1="613" y1="500" x2="616" y2="500"/><line x1="613" y1="526" x2="616" y2="526"/><line x1="613" y1="552" x2="616" y2="552"/><line x1="613" y1="578" x2="616" y2="578"/><line x1="613" y1="604" x2="616" y2="604"/></g>
<g fill="none" stroke-width="1.6">
<path d="M633,614 C654.6,614 659.4,606 669,606 C678.6,606 683.4,614 705,614" stroke="#f5c898"/>
<path d="M633,614 C654.6,614 659.4,593 669,593 C678.6,593 683.4,614 705,614" stroke="#f0b078"/>
<path d="M633,614 C654.6,614 659.4,542 669,542 C678.6,542 683.4,614 705,614" stroke="#e09058"/>
<path d="M633,614 C654.6,614 659.4,513 669,513 C678.6,513 683.4,614 705,614" stroke="#d07848"/>
<path d="M633,614 C654.6,614 659.4,500 669,500 C678.6,500 683.4,614 705,614" stroke="#b86038"/>
</g>
<g stroke="#c07050" stroke-width="1"><line x1="697" y1="497" x2="703" y2="497"/><line x1="697" y1="523" x2="703" y2="523"/><line x1="697" y1="549" x2="703" y2="549"/><line x1="697" y1="575" x2="703" y2="575"/><line x1="705" y1="601" x2="711" y2="601"/></g>
<g font-size="8.5" fill="#a06040"><text x="704" y="500">4.4 V</text><text x="704" y="526">3.6 V</text><text x="704" y="552">3.4 V</text><text x="704" y="578">3.2 V</text><text x="712" y="604">3 V</text></g>
<rect x="725" y="488" width="39" height="24" fill="url(#pglow)"/>
<rect x="725" y="514" width="39" height="24" fill="url(#pglow)"/>
<rect x="725" y="540" width="39" height="24" fill="url(#pglow2)"/>
<rect x="725" y="566" width="39" height="24" fill="url(#pglow3)"/>
<rect x="725" y="592" width="39" height="22" fill="#080400"/>
<g fill="#fff0b0"><circle cx="742" cy="596" r="1.3"/><circle cx="747" cy="596" r="1.3"/><circle cx="742" cy="601" r="1.3"/><circle cx="747" cy="601" r="1.3"/>
<circle cx="741" cy="575" r="2"/><circle cx="748" cy="575" r="2"/><circle cx="741" cy="581" r="2"/><circle cx="748" cy="581" r="2"/></g>
<g stroke="#8a5010" stroke-width="1.2" opacity="0.6"><line x1="744.5" y1="490" x2="744.5" y2="510"/><line x1="727" y1="500" x2="762" y2="500"/><line x1="744.5" y1="516" x2="744.5" y2="536"/><line x1="727" y1="526" x2="762" y2="526"/><line x1="744.5" y1="542" x2="744.5" y2="562"/><line x1="727" y1="552" x2="762" y2="552"/></g>
<g font-size="11" fill="#444" text-anchor="middle"><text x="612" y="628">400</text><text x="647" y="628">500</text><text x="675" y="628">600</text><text x="703" y="628">700</text><text x="733" y="628">800</text><text x="762" y="628">900</text></g>
<text x="690" y="640" font-size="11" fill="#444" text-anchor="middle">Wavelength (nm)</text>
<text transform="translate(608,545) rotate(-90)" font-size="11" fill="#444" text-anchor="middle">EL intensity</text>
<g opacity="0.75">
<path d="M592,612 C590,602 600,598 606,602 C612,598 620,604 616,612 C614,618 606,620 600,618 L594,622 L595,616 C592,615 592,613 592,612 Z" fill="#fff" stroke="#999" stroke-width="0.8"/>
<text x="620" y="621" font-size="19" fill="#fff" stroke="#999" stroke-width="0.7" font-family="'Liberation Sans','Noto Sans CJK SC','WenQuanYi Zen Hei',sans-serif">柔性电子服务平台</text>
</g>
</svg>
</body></html>
